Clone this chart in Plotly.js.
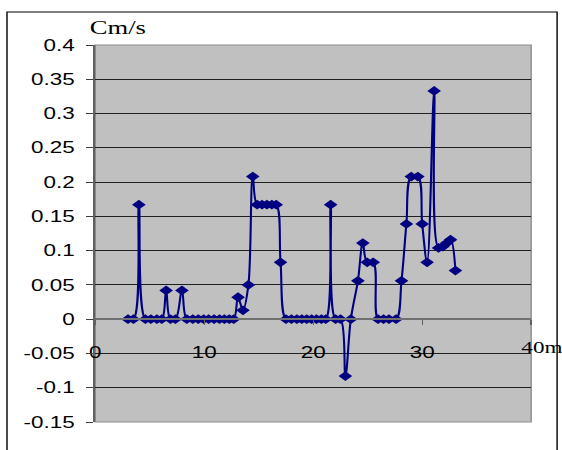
<!DOCTYPE html>
<html>
<head>
<meta charset="utf-8">
<script src="https://cdn.plot.ly/plotly-3.0.1.min.js"></script>
<style>
  html, body { margin: 0; padding: 0; background: #ffffff; overflow: hidden; }
  #wrap { width: 562px; height: 450px; overflow: hidden; }
  /* the chart is laid out narrow and widened horizontally */
  #chart { width: 401px; height: 450px; transform: scaleX(1.4015); transform-origin: 0 0; }
</style>
</head>
<body>
<div id="wrap"><div id="chart"></div></div>
<script>
// distance along the section (m)
const distance = [
  3.0, 3.5, 4.0, 4.6, 5.1, 5.65, 6.1, 6.5, 6.9, 7.35,
  7.95, 8.4, 8.95, 9.45, 9.95, 10.4, 10.9, 11.4, 11.85, 12.3,
  12.7, 13.1, 13.55, 14.05, 14.45, 14.85, 15.3, 15.75, 16.2, 16.6,
  17.0, 17.5, 18.0, 18.5, 18.95, 19.4, 19.85, 20.3, 20.75, 21.15,
  21.6, 22.05, 22.5, 22.95, 23.45, 24.1, 24.55, 24.95, 25.5, 25.95,
  26.45, 26.95, 27.6, 28.1, 28.55, 29.0, 29.6, 30.0, 30.45, 31.1,
  31.5, 31.9, 32.25, 32.6, 33.05
];

// velocity (cm/s)
const velocity = [
  0, 0, 0.167, 0, 0, 0, 0, 0.042, 0, 0,
  0.042, 0, 0, 0, 0, 0, 0, 0, 0, 0,
  0, 0.032, 0.013, 0.05, 0.208, 0.167, 0.167, 0.167, 0.167, 0.167,
  0.083, 0, 0, 0, 0, 0, 0, 0, 0, 0,
  0.167, 0, 0, -0.083, 0, 0.056, 0.111, 0.083, 0.083, 0,
  0, 0, 0, 0.056, 0.139, 0.208, 0.208, 0.139, 0.083, 0.333,
  0.104, 0.106, 0.111, 0.116, 0.071
];

const yTickVals = [0.4, 0.35, 0.3, 0.25, 0.2, 0.15, 0.1, 0.05, 0, -0.05, -0.1, -0.15];
const yTickText = ['0.4', '0.35', '0.3', '0.25', '0.2', '0.15', '0.1', '0.05', '0', '-0.05', '-0.1', '-0.15'];
const xTickVals = [0, 10, 20, 30, 40];
const xTickText = ['0', '10', '20', '30', ''];

const xMin = 0, xMax = 40;
const yMin = -0.15, yMax = 0.4;
const sans = 'Liberation Sans, Arial, sans-serif';
const serif = 'Liberation Serif, Times New Roman, serif';

// data value -> fraction of the plot area, for texts placed outside it
const fx = v => (v - xMin) / (xMax - xMin);
const fy = v => (v - yMin) / (yMax - yMin);

const trace = {
  x: distance,
  y: velocity,
  type: 'scatter',
  mode: 'lines+markers',
  line: { color: '#000080', width: 1.5, shape: 'spline', smoothing: 1 },
  marker: { symbol: 'diamond', size: 7.5, color: '#000080' },
  cliponaxis: false,
  hoverinfo: 'skip'
};

const layout = {
  width: 401,
  height: 450,
  margin: { l: 68, r: 22, t: 45, b: 28 },
  paper_bgcolor: '#ffffff',
  plot_bgcolor: '#c0c0c0',
  showlegend: false,
  font: { family: sans, size: 16, color: '#000000' },
  xaxis: {
    range: [xMin, xMax],
    anchor: 'free',
    position: fy(0),
    tickvals: xTickVals,
    ticktext: xTickText,
    ticks: 'outside',
    ticklen: 5,
    tickcolor: '#606060',
    ticklabelstandoff: 14,
    showgrid: false,
    zeroline: false,
    showline: true,
    linecolor: '#707070',
    linewidth: 2,
    tickfont: { family: sans, size: 16, color: '#000000' }
  },
  yaxis: {
    range: [yMin, yMax],
    tickvals: yTickVals,
    ticktext: yTickText,
    ticks: 'outside',
    ticklen: 5,
    tickcolor: '#404040',
    ticklabelstandoff: 5,
    showgrid: true,
    gridcolor: '#202020',
    gridwidth: 1,
    zeroline: false,
    showline: true,
    linecolor: '#606060',
    linewidth: 1.5,
    tickfont: { family: sans, size: 16, color: '#000000' }
  },
  shapes: [
    // plot-area frame
    { type: 'rect', xref: 'paper', yref: 'paper', x0: 0, x1: 1, y0: 0, y1: 1,
      line: { color: '#8c8c8c', width: 1 }, layer: 'below' },
    // outer chart border
    { type: 'rect', xref: 'paper', yref: 'paper', x0: -0.2026, x1: 1.0595, y0: -0.1, y1: 1.0875,
      line: { color: '#000000', width: 1 } }
  ],
  annotations: [
    { text: 'Cm/s', xref: 'paper', yref: 'paper', x: fx(2.04), y: fy(0.425), showarrow: false,
      xanchor: 'center', yanchor: 'middle', font: { family: serif, size: 19, color: '#000000' } },
    { text: '40m', xref: 'paper', yref: 'paper', x: fx(38.8), y: fy(-0.042), showarrow: false,
      xanchor: 'left', yanchor: 'middle', font: { family: serif, size: 16.5, color: '#000000' } }
  ]
};

Plotly.newPlot('chart', [trace], layout, { displayModeBar: false, staticPlot: true });
</script>
</body>
</html>
